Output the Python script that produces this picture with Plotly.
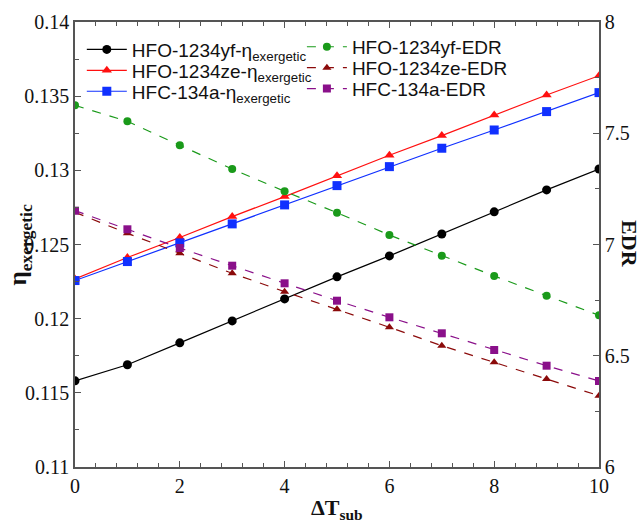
import plotly.graph_objects as go

x_sub = [0, 1, 2, 3, 4, 5, 6, 7, 8, 9, 10]

eta_yf = [0.11581, 0.11689, 0.11837, 0.11985, 0.12133, 0.12282, 0.12423, 0.12571, 0.12720, 0.12868, 0.13009]
eta_ze = [0.12268, 0.12412, 0.12547, 0.12688, 0.12823, 0.12964, 0.13102, 0.13234, 0.13373, 0.13508, 0.13638]
eta_134a = [0.12257, 0.12385, 0.12511, 0.12639, 0.12767, 0.12897, 0.13025, 0.13149, 0.13272, 0.13396, 0.13524]

edr_yf = [7.6255, 7.5537, 7.4458, 7.3393, 7.2389, 7.1429, 7.0427, 6.9497, 6.8584, 6.7699, 6.6818]
edr_ze = [7.1447, 7.0503, 6.9604, 6.8705, 6.7879, 6.7088, 6.6279, 6.5452, 6.4706, 6.3955, 6.3204]
edr_134a = [7.1521, 7.0683, 6.9843, 6.9047, 6.8256, 6.7474, 6.6728, 6.6009, 6.5258, 6.4553, 6.3865]

left_tickvals = [0.11, 0.115, 0.12, 0.125, 0.13, 0.135, 0.14]
left_ticktext = ["0.11", "0.115", "0.12", "0.125", "0.13", "0.135", "0.14"]
right_tickvals = [6, 6.5, 7, 7.5, 8]
right_ticktext = ["6", "6.5", "7", "7.5", "8"]
x_tickvals = [0, 2, 4, 6, 8, 10]

names_eta = ["HFO-1234yf-η<sub>exergetic</sub>", "HFO-1234ze-η<sub>exergetic</sub>", "HFC-134a-η<sub>exergetic</sub>"]
names_edr = ["HFO-1234yf-EDR", "HFO-1234ze-EDR", "HFC-134a-EDR"]

fig = go.Figure()

eta_series = [eta_yf, eta_ze, eta_134a]
edr_series = [edr_yf, edr_ze, edr_134a]
eta_colors = ["#000000", "#ff1010", "#1030ff"]
edr_colors = ["#1a9a1a", "#8b0a0a", "#8a108a"]
symbols = ["circle", "triangle-up", "square"]

legend_names = ["legend", "legend2", "legend3", "legend4", "legend5", "legend6"]
row_y = [0.944, 0.897, 0.850]

for i in range(3):
    fig.add_trace(go.Scatter(
        x=x_sub, y=eta_series[i], name=names_eta[i], mode="lines+markers",
        line=dict(color=eta_colors[i], width=1.2),
        marker=dict(symbol=symbols[i], size=9, color=eta_colors[i]),
        legend=legend_names[i], yaxis="y"))
for i in range(3):
    fig.add_trace(go.Scatter(
        x=x_sub, y=edr_series[i], name=names_edr[i], mode="lines+markers",
        line=dict(color=edr_colors[i], width=1.2, dash="dash"),
        marker=dict(symbol=symbols[i], size=8, color=edr_colors[i]),
        legend=legend_names[3 + i], yaxis="y2"))

axis_line = "#555555"
serif = "Liberation Serif, Times New Roman, serif"
tickfont = dict(family=serif, size=20, color="#111111")
legfont = dict(family="Liberation Sans, Arial, sans-serif", size=19, color="#111")

legends = {}
for i in range(3):
    legends[legend_names[i]] = dict(x=0.013, y=row_y[i] - 0.006, xanchor="left", yanchor="middle",
                                    bgcolor="rgba(0,0,0,0)", font=legfont, itemwidth=40)
    legends[legend_names[3 + i]] = dict(x=0.433, y=row_y[i], xanchor="left", yanchor="middle",
                                        bgcolor="rgba(0,0,0,0)", font=legfont, itemwidth=40)

fig.update_layout(
    width=643, height=522,
    margin=dict(l=75, r=44, t=22, b=55),
    plot_bgcolor="white", paper_bgcolor="white",
    showlegend=True,
    xaxis=dict(range=[0, 10], tickvals=x_tickvals, ticks="inside", ticklen=6, tickwidth=1.2,
               tickcolor=axis_line, showline=True, linecolor=axis_line, linewidth=1.5,
               mirror="ticks", showgrid=False, zeroline=False, tickfont=tickfont, automargin=False,
               minor=dict(dtick=0.4, ticks="inside", ticklen=4, tickcolor=axis_line, showgrid=False)),
    yaxis=dict(range=[0.11, 0.14], tickvals=left_tickvals, ticktext=left_ticktext, ticks="inside",
               ticklen=6, tickwidth=1.2, tickcolor=axis_line, showline=True, linecolor=axis_line,
               linewidth=1.5, showgrid=False, zeroline=False, tickfont=tickfont, automargin=False,
               minor=dict(dtick=0.0025, tick0=0.11, ticks="inside", ticklen=4, tickcolor=axis_line, showgrid=False)),
    yaxis2=dict(range=[6, 8], overlaying="y", side="right", tickvals=right_tickvals, ticktext=right_ticktext,
                ticks="inside", ticklen=6, tickwidth=1.2, tickcolor=axis_line, showline=True,
                linecolor=axis_line, linewidth=1.5, showgrid=False, zeroline=False, tickfont=tickfont,
                automargin=False,
                minor=dict(dtick=0.25, tick0=6, ticks="inside", ticklen=4, tickcolor=axis_line, showgrid=False)),
    annotations=[
        dict(text="<b>ΔT<sub>sub</sub></b>", xref="paper", yref="paper", x=0.5, y=-0.058,
             xanchor="center", yanchor="top", showarrow=False,
             font=dict(family=serif, size=22, color="#111")),
        dict(text="<b>η<sub>exergetic</sub></b>", xref="paper", yref="paper", x=-0.105, y=0.5,
             xanchor="center", yanchor="middle", textangle=-90, showarrow=False,
             font=dict(family=serif, size=25, color="#111")),
        dict(text="<b>EDR</b>", xref="paper", yref="paper", x=1.058, y=0.5,
             xanchor="center", yanchor="middle", textangle=90, showarrow=False,
             font=dict(family=serif, size=22, color="#111")),
    ],
    **legends,
)

fig.write_html("out.html", config={"displayModeBar": False},
               post_script="document.body.style.margin='0';document.body.style.overflow='hidden';")
